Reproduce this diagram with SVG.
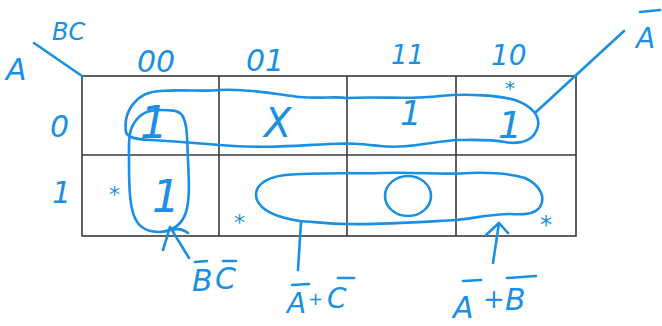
<svg xmlns="http://www.w3.org/2000/svg" width="662" height="326" viewBox="0 0 662 326">
<style>
.g{stroke:#3a3a3a;stroke-width:1.6;fill:none}
.p{stroke:#1a8fe3;stroke-width:2.6;fill:none;stroke-linecap:round;stroke-linejoin:round}
.t{fill:#1a8fe3;font-family:"DejaVu Sans","Liberation Sans",sans-serif;font-weight:200;font-style:italic}
</style>
<rect width="662" height="326" fill="#fff"/>
<g id="grid">
<rect class="g" x="82" y="76" width="494" height="160"/>
<line class="g" x1="82" y1="155" x2="576" y2="155"/>
<line class="g" x1="219" y1="76" x2="219" y2="236"/>
<line class="g" x1="347" y1="76" x2="347" y2="236"/>
<line class="g" x1="456" y1="76" x2="456" y2="236"/>
</g>
<g id="headers">
<line class="p" x1="34" y1="43" x2="82" y2="76"/>
<text class="t" x="52" y="40" font-size="24">BC</text>
<text class="t" x="6" y="80" font-size="30">A</text>
<text class="t" x="137" y="72" font-size="30">00</text>
<text class="t" x="246" y="71" font-size="30">01</text>
<text class="t" x="391" y="64" font-size="26">11</text>
<text class="t" x="491" y="65" font-size="28">10</text>
<text class="t" x="50" y="137" font-size="30">0</text>
<text class="t" x="52" y="203" font-size="30">1</text>
</g>
<g id="cells">
<text class="t" x="140" y="138" font-size="44">1</text>
<text class="t" x="264" y="137" font-size="40">X</text>
<text class="t" x="400" y="125" font-size="34">1</text>
<text class="t" x="498" y="138" font-size="38">1</text>
<text class="t" x="505" y="95" font-size="20">*</text>
<text class="t" x="109" y="202" font-size="22">*</text>
<text class="t" x="152" y="212" font-size="44">1</text>
<text class="t" x="234" y="230" font-size="22">*</text>
<text class="t" x="540" y="233" font-size="24">*</text>
</g>
<g id="loops">
<path id="loop-abar" class="p" d="M126,132 C123,112 136,92 160,91 C185,89 200,92 219,90 C250,88 280,95 300,97 C320,99 335,96 347,98 C380,96 410,100 440,96 C470,93 500,96 515,100 C532,106 540,116 538,126 C535,140 522,145 505,142 C490,139 470,140 456,140 C430,142 405,149 380,146 C360,144 352,143 330,144 C300,145 270,149 219,145 C195,143 170,141 150,140 C136,139 128,138 126,132 Z"/>
<path id="loop-bcbar" class="p" d="M129,163 C129,148 128,133 133,125 C140,112 150,110 160,110 C170,110 178,110 182,115 C188,125 187,140 188,160 C189,180 190,200 186,212 C182,225 172,231 160,232 C148,232 140,228 136,220 C130,210 129,190 129,163"/>
<path class="p" d="M172,230 C178,228 184,230 188,233"/>
<path id="loop-abar-cbar" class="p" d="M300,221 C280,218 262,212 257,200 C253,188 262,178 285,175 C320,172 350,174 380,173 C420,172 440,175 470,173 C500,172 515,175 525,178 C540,185 546,197 540,207 C535,214 525,215 510,214 C490,214 470,219 456,220 C420,222 380,225 347,224 C330,224 315,222 300,221 Z"/>
<ellipse id="loop-abar-bbar" class="p" cx="408" cy="196" rx="23" ry="20"/>
</g>
<g id="connectors">
<line class="p" x1="536" y1="112" x2="624" y2="31"/>
<path class="p" d="M163,250 L170,227 L189,258"/>
<line class="p" x1="301" y1="222" x2="298" y2="270"/>
<path class="p" d="M493,263 L499,223 M486,235 L499,223 L508,233"/>
</g>
<g id="term-labels">
<text class="t" x="636" y="48" font-size="28">A</text>
<line class="p" x1="640" y1="12" x2="660" y2="10"/>
<text class="t" x="192" y="291" font-size="30">B</text>
<line class="p" x1="195" y1="262" x2="207" y2="261"/>
<text class="t" x="215" y="289" font-size="30">C</text>
<line class="p" x1="223" y1="261" x2="236" y2="261"/>
<text class="t" x="287" y="313" font-size="28">A</text>
<line class="p" x1="292" y1="285" x2="309" y2="284"/>
<text class="t" x="308" y="305" font-size="18">+</text>
<text class="t" x="327" y="308" font-size="28">C</text>
<line class="p" x1="338" y1="278" x2="354" y2="278"/>
<text class="t" x="453" y="318" font-size="30">A</text>
<line class="p" x1="463" y1="281" x2="481" y2="280"/>
<text class="t" x="483" y="308" font-size="26">+</text>
<text class="t" x="505" y="310" font-size="30">B</text>
<line class="p" x1="507" y1="278" x2="536" y2="276"/>
</g>
</svg>
